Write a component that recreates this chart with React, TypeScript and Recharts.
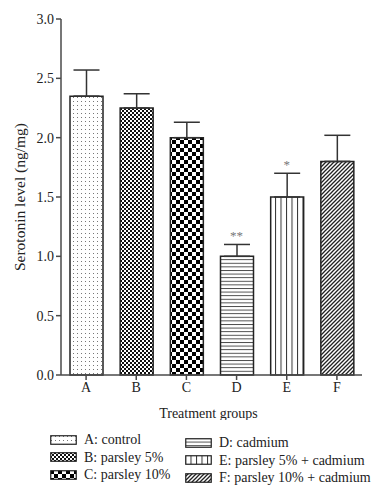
import React from "react";
import {
  ComposedChart,
  Bar,
  Cell,
  XAxis,
  YAxis,
  ErrorBar,
  Scatter,
  Label,
} from "recharts";

const GROUPS = ["A", "B", "C", "D", "E", "F"];
const MEANS = [2.35, 2.25, 2.0, 1.0, 1.5, 1.8];
const ERRORS = [0.22, 0.12, 0.13, 0.1, 0.2, 0.22];
const SIG = ["", "", "", "**", "*", ""];
const LEGEND_LABELS = [
  "A: control",
  "B: parsley 5%",
  "C: parsley 10%",
  "D: cadmium",
  "E: parsley 5% + cadmium",
  "F: parsley 10% + cadmium",
];
const Y_TICKS = [0, 0.5, 1.0, 1.5, 2.0, 2.5, 3.0];
const PATTERNS = ["pA", "pB", "pC", "pD", "pE", "pF"];

const FONT = "'Liberation Serif', 'DejaVu Serif', serif";
const AXIS = "#4a4a4a";

const data = GROUPS.map((g, i) => ({
  group: g,
  mean: MEANS[i],
  err: [0, ERRORS[i]],
  sig: SIG[i],
  starY: SIG[i] ? MEANS[i] + ERRORS[i] : null,
}));

const PatternDefs = () => (
  <defs>
    <pattern id="pA" width="4" height="4" patternUnits="userSpaceOnUse">
      <rect width="4" height="4" fill="#fff" />
      <rect x="1" y="1" width="1" height="1" fill="#777" />
    </pattern>
    <pattern id="pB" width="4" height="4" patternUnits="userSpaceOnUse">
      <rect width="4" height="4" fill="#fff" />
      <rect x="0" y="0" width="2" height="2" fill="#111" />
      <rect x="2" y="2" width="2" height="2" fill="#111" />
    </pattern>
    <pattern id="pC" width="8" height="8" patternUnits="userSpaceOnUse">
      <rect width="8" height="8" fill="#fff" />
      <rect x="0" y="0" width="4" height="4" fill="#000" />
      <rect x="4" y="4" width="4" height="4" fill="#000" />
    </pattern>
    <pattern id="pD" width="4" height="3.6" patternUnits="userSpaceOnUse">
      <rect width="4" height="3.6" fill="#fff" />
      <line x1="0" y1="0.5" x2="4" y2="0.5" stroke="#333" strokeWidth="0.9" />
    </pattern>
    <pattern id="pE" width="5.5" height="4" patternUnits="userSpaceOnUse">
      <rect width="5.5" height="4" fill="#fff" />
      <line x1="0.5" y1="0" x2="0.5" y2="4" stroke="#333" strokeWidth="1" />
    </pattern>
    <pattern id="pF" width="4" height="4" patternUnits="userSpaceOnUse">
      <rect width="4" height="4" fill="#fff" />
      <path d="M-1,1 l2,-2 M0,4 l4,-4 M3,5 l2,-2" stroke="#222" strokeWidth="1.3" />
    </pattern>
  </defs>
);

const Star = (props: any) => {
  const { cx, cy, payload } = props;
  if (cy == null || !payload.sig) return null;
  return (
    <text
      x={cx}
      y={cy - 4}
      textAnchor="middle"
      fontFamily={FONT}
      fontSize={13}
      fill="#777"
    >
      {payload.sig}
    </text>
  );
};

const Swatch = ({ id }: { id: string }) => (
  <svg width="27" height="10" style={{ display: "block" }}>
    <rect x="0.75" y="0.75" width="25.5" height="8.5" fill={`url(#${id})`} stroke="#222" strokeWidth="1.2" />
  </svg>
);

export default function App() {
  return (
    <div
      style={{
        position: "absolute",
        left: 0,
        top: 0,
        width: 388,
        height: 500,
        background: "#fff",
        fontFamily: FONT,
      }}
    >
      <ComposedChart
        width={388}
        height={420}
        data={data}
        margin={{ top: 19, right: 26, left: 0, bottom: 0 }}
        barCategoryGap={17}
      >
        <PatternDefs />
        <XAxis
          dataKey="group"
          height={45}
          stroke={AXIS}
          strokeWidth={1.5}
          tickSize={5}
          tick={{ fontFamily: FONT, fontSize: 14, fill: "#222" }}
        >
          <Label
            content={(p: any) => (
              <text
                x={p.viewBox.x + p.viewBox.width / 2 - 3}
                y={418}
                textAnchor="middle"
                fontFamily={FONT}
                fontSize={14}
                fill="#222"
              >
                Treatment groups
              </text>
            )}
          />
        </XAxis>
        <YAxis
          width={61}
          domain={[0, 3]}
          ticks={Y_TICKS}
          tickFormatter={(v: number) => v.toFixed(1)}
          stroke={AXIS}
          strokeWidth={1.5}
          tickSize={5}
          tick={{ fontFamily: FONT, fontSize: 14, fill: "#222" }}
        >
          <Label
            content={(p: any) => {
              const cy = p.viewBox.y + p.viewBox.height / 2;
              return (
                <text
                  x={19}
                  y={cy}
                  transform={`rotate(-90 19 ${cy})`}
                  textAnchor="middle"
                  dominantBaseline="central"
                  fontFamily={FONT}
                  fontSize={15.5}
                  fill="#222"
                >
                  Serotonin level (ng/mg)
                </text>
              );
            }}
          />
        </YAxis>
        <Bar
          dataKey="mean"
          barSize={33}
          stroke="#222"
          strokeWidth={1.5}
          isAnimationActive={false}
        >
          {data.map((d, i) => (
            <Cell key={d.group} fill={`url(#${PATTERNS[i]})`} />
          ))}
          <ErrorBar
            dataKey="err"
            direction="y"
            width={13}
            stroke="#333"
            strokeWidth={1.5}
          />
        </Bar>
        <Scatter dataKey="starY" shape={Star} isAnimationActive={false} />
      </ComposedChart>
      <div
        style={{
          position: "absolute",
          left: 50,
          top: 431,
          display: "grid",
          gridTemplateColumns: "135px 190px",
          rowGap: 0,
          fontSize: 14,
          color: "#222",
          lineHeight: "17.5px",
        }}
      >
        {[0, 3, 1, 4, 2, 5].map((i) => (
          <div
            key={i}
            style={{
              display: "flex",
              alignItems: "center",
              gap: 7,
              position: "relative",
              top: i >= 3 ? 3 : 0,
            }}
          >
            <Swatch id={PATTERNS[i]} />
            <span>{LEGEND_LABELS[i]}</span>
          </div>
        ))}
      </div>
    </div>
  );
}
